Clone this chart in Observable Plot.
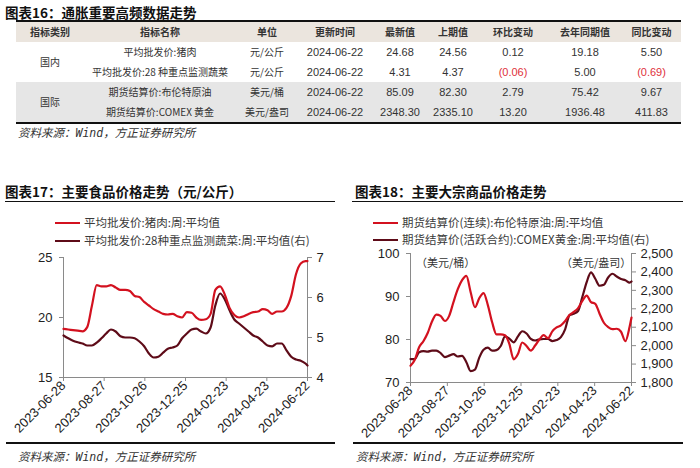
<!DOCTYPE html>
<html><head><meta charset="utf-8">
<script src="https://cdn.jsdelivr.net/npm/d3@7"></script>
<script src="https://cdn.jsdelivr.net/npm/@observablehq/plot@0.6"></script>
<style>
html,body{margin:0;padding:0;}
body{width:700px;height:468px;background:#fff;position:relative;overflow:hidden;font-family:"Noto Sans CJK SC","Noto Sans",sans-serif;color:#222;}
.abs{position:absolute;white-space:nowrap;}
.title{font-weight:bold;font-size:13.5px;color:#111;line-height:16px;}
.src{font-style:italic;font-size:11.5px;color:#333;line-height:14px;}
.src i{font-family:"DejaVu Sans Mono","Liberation Mono",monospace;font-style:italic;}
table{border-collapse:collapse;table-layout:fixed;position:absolute;left:16px;top:20px;width:665px;border-top:2px solid #111;border-bottom:2px solid #111;}
td{padding:0;height:20px;text-align:center;vertical-align:middle;font-size:10px;color:#333;line-height:20px;white-space:nowrap;overflow:visible;}
td.num{font-family:"Liberation Sans",Arial,sans-serif;font-size:11px;}
tr.head td{background:#ebe5de;font-weight:bold;color:#333;}
tr.grey td{background:#e6e6e6;}
.neg{color:#e0303a;}
.leg{font-size:11.5px;color:#3a3a3a;line-height:13px;}
.leg span.ln{display:inline-block;width:25px;height:0;border-top:2.5px solid;vertical-align:middle;margin-right:4px;position:relative;top:-1px;}
.unit{font-size:11px;color:#333;line-height:13px;}
</style>
</head><body>
<script>
// ---------- table data ----------
const tableHeaders = ["指标类别","指标名称","单位","更新时间","最新值","上期值","环比变动","去年同期值","同比变动"];
const tableGroups = ["国内","国际"];
const tableNames = ["平均批发价:猪肉","平均批发价:28 种重点监测蔬菜","期货结算价:布伦特原油","期货结算价:COMEX 黄金"];
const tableUnits = ["元/公斤","元/公斤","美元/桶","美元/盎司"];
const tableDates = ["2024-06-22","2024-06-22","2024-06-22","2024-06-22"];
const latestValue = [24.68, 4.31, 85.09, 2348.30];
const previousValue = [24.56, 4.37, 82.30, 2335.10];
const momChange = [0.12, -0.06, 2.79, 13.20];
const lastYearValue = [19.18, 5.00, 75.42, 1936.48];
const yoyChange = [5.50, -0.69, 9.67, 411.83];

// ---------- chart data (weekly, 2023-06-28 .. 2024-06-22) ----------
const porkPrice = [19.05,19.0,18.95,18.9,18.85,19.2,21.0,22.7,22.6,22.6,22.7,22.5,22.3,22.3,22.2,21.8,21.7,21.3,21.0,20.7,20.5,20.3,20.25,20.3,20.1,20.0,20.45,20.4,20.0,19.8,19.85,20.3,22.3,22.6,21.9,20.8,20.2,20.0,20.1,20.3,20.45,20.5,20.7,20.6,20.3,20.5,20.5,20.8,21.8,23.6,24.5,24.7,24.7];
const vegPrice = [5.05,4.98,4.92,4.88,4.85,4.8,4.8,4.87,4.98,5.1,5.2,5.15,5.03,5.0,5.0,4.98,4.9,4.78,4.6,4.5,4.52,4.62,4.72,4.75,4.8,4.98,5.1,5.2,5.22,5.15,5.1,5.25,5.8,6.1,5.95,5.68,5.45,5.35,5.25,5.15,5.05,5.0,4.9,4.8,4.78,4.85,4.85,4.68,4.52,4.45,4.42,4.35,4.3];
const brentPrice = [73.9,75.3,78.2,79.6,81.5,84.2,85.8,85.5,84.3,85.5,88.7,91.7,93.8,94.8,91.0,87.5,89.6,90.8,88.0,84.0,81.2,81.2,81.0,79.0,75.4,76.6,79.3,78.5,77.4,78.6,80.0,81.0,80.3,81.9,82.8,83.3,84.3,85.7,86.4,87.3,89.0,90.2,88.7,88.3,86.0,83.9,82.9,82.4,82.5,81.8,79.6,83.0,85.1];
const goldPrice = [1927,1927,1964,1970,1968,1973,1973,1960,1938,1946,1954,1941,1945,1910,1862,1870,1935,1978,1989,1973,1976,1998,2050,2038,2018,2050,2078,2066,2037,2028,2034,2036,2036,2025,2030,2046,2090,2165,2173,2188,2265,2345,2398,2363,2325,2330,2370,2390,2375,2362,2355,2342,2348];
const xTickLabels = ["2023-06-28","2023-08-27","2023-10-26","2023-12-25","2024-02-23","2024-04-23","2024-06-22"];
const foodTicksLeft = [15,20,25];
const foodTicksRight = [4,5,6,7];
const commTicksLeft = [70,80,90,100];
const commTicksRight = [1800,1900,2000,2100,2200,2300,2400,2500];

const RED = "#d3111f", DARK = "#5e0b18";

function el(tag, cls, style, html){const e=document.createElement(tag); if(cls) e.className=cls; if(style) e.setAttribute("style",style); if(html!=null) e.innerHTML=html; document.body.appendChild(e); return e;}

// ---------- titles ----------
el("div","abs title","left:5px;top:4px;","图表16：通胀重要高频数据走势");
el("div","abs src","left:18px;top:125px;","资料来源：<i>Wind</i>，方正证券研究所");
el("div","abs title","left:5px;top:183px;","图表17：主要食品价格走势（元/公斤）");
el("div","abs title","left:355px;top:183px;","图表18：主要大宗商品价格走势");
el("div","abs","left:5px;top:201px;width:330px;border-top:1.5px solid #111;");
el("div","abs","left:352px;top:201px;width:331px;border-top:1.5px solid #111;");
el("div","abs","left:6px;top:442px;width:329px;border-top:2px solid #111;");
el("div","abs","left:353px;top:442px;width:330px;border-top:2px solid #111;");
el("div","abs src","left:18px;top:449px;","资料来源：<i>Wind</i>，方正证券研究所");
el("div","abs src","left:356px;top:449px;","资料来源：<i>Wind</i>，方正证券研究所");

// ---------- table ----------
const fmt2 = v => v < 0 ? `<span class="neg">(${Math.abs(v).toFixed(2)})</span>` : v.toFixed(2);
const colW = [68,152,62,74,56,50,70,74,59];
const tbl = document.createElement("table");
const cg = document.createElement("colgroup");
colW.forEach(w=>{const c=document.createElement("col"); c.style.width=w+"px"; cg.appendChild(c);});
tbl.appendChild(cg);
let h = '<tr class="head">' + tableHeaders.map(t=>`<td>${t}</td>`).join("") + "</tr>";
for (let i=0;i<4;i++){
  h += `<tr class="${i>=2?"grey":""}">`;
  if (i%2===0) h += `<td rowspan="2">${tableGroups[i/2]}</td>`;
  h += `<td>${tableNames[i]}</td><td>${tableUnits[i]}</td><td class="num">${tableDates[i]}</td>`;
  h += `<td class="num">${latestValue[i].toFixed(2)}</td><td class="num">${previousValue[i].toFixed(2)}</td><td class="num">${fmt2(momChange[i])}</td><td class="num">${lastYearValue[i].toFixed(2)}</td><td class="num">${fmt2(yoyChange[i])}</td></tr>`;
}
tbl.insertAdjacentHTML("beforeend", h);
document.body.appendChild(tbl);

// ---------- legends ----------
function legend(x,y,color,text){el("div","abs leg",`left:${x}px;top:${y}px;`,`<span class="ln" style="border-color:${color}"></span>${text}`);}
legend(55,216,RED,"平均批发价:猪肉:周:平均值");
legend(55,234,DARK,"平均批发价:28种重点监测蔬菜:周:平均值(右)");
legend(373,216,RED,"期货结算价(连续):布伦特原油:周:平均值");
legend(373,233,DARK,"期货结算价(活跃合约):COMEX黄金:周:平均值(右)");
el("div","abs unit","left:416px;top:256px;","（美元/桶）");
el("div","abs unit","left:561px;top:256px;","（美元/盎司）");

// ---------- charts ----------
const parse = d3.utcParse("%Y-%m-%d");
const start = parse("2023-06-28"), end = parse("2024-06-22");
const dates = d3.range(0,358,7).concat([360]).map(d=>d3.utcDay.offset(start,d));
const xTicks = xTickLabels.map(parse);
const fmtDate = d3.utcFormat("%Y-%m-%d");

function dualChart({left, data1, data2, yL, yR, ticksL, ticksR, fmtR, margins}){
  const [l0,l1]=yL,[r0,r1]=yR;
  const toL = v => l0 + (v-r0)*(l1-l0)/(r1-r0);
  const fromL = v => r0 + (v-l0)*(r1-r0)/(l1-l0);
  const s1 = data1.map((v,i)=>({date:dates[i], v}));
  const s2 = data2.map((v,i)=>({date:dates[i], v:toL(v)}));
  const p = Plot.plot({
    width: margins.width, height: 197,
    marginTop: margins.top, marginBottom: margins.bottom, marginLeft: margins.left, marginRight: margins.right,
    style:{fontFamily:"'Liberation Sans',Arial,sans-serif", fontSize:"13px", color:"#222", background:"transparent", overflow:"visible"},
    x:{type:"utc", domain:[start,end]},
    y:{domain:yL},
    marks:[
      Plot.ruleX([start,end],{stroke:"#8a8a8a"}),
      Plot.ruleY([l0],{stroke:"#8a8a8a"}),
      Plot.axisX({ticks:xTicks, tickFormat:fmtDate, tickRotate:-45, tickSize:4, tickPadding:2, stroke:"#8a8a8a", fill:"#222", fontSize:13, label:null}),
      Plot.axisY({ticks:ticksL, anchor:"left", tickSize:4, tickPadding:7, stroke:"#8a8a8a", fill:"#222", fontSize:13, label:null}),
      Plot.axisY({ticks:ticksR.map(toL), tickFormat:v=>fmtR(Math.round(fromL(v))), anchor:"right", tickSize:4, tickPadding:5, stroke:"#8a8a8a", fill:"#222", fontSize:13, label:null}),
      Plot.lineY(s2,{x:"date", y:"v", stroke:DARK, strokeWidth:2.2, curve:"monotone-x"}),
      Plot.lineY(s1,{x:"date", y:"v", stroke:RED, strokeWidth:2.2, curve:"monotone-x"})
    ]
  });
  p.style.position="absolute"; p.style.left=left+"px"; p.style.top="240px";
  document.body.appendChild(p);
}
dualChart({left:0, data1:porkPrice, data2:vegPrice, yL:[15,25], yR:[4,7], ticksL:foodTicksLeft, ticksR:foodTicksRight, fmtR:d3.format("d"),
  margins:{width:345, top:17, bottom:60, left:63, right:38}});
dualChart({left:350, data1:brentPrice, data2:goldPrice, yL:[70,100], yR:[1800,2500], ticksL:commTicksLeft, ticksR:commTicksRight, fmtR:d3.format(","),
  margins:{width:350, top:13, bottom:55, left:60, right:69}});
</script>
</body></html>
